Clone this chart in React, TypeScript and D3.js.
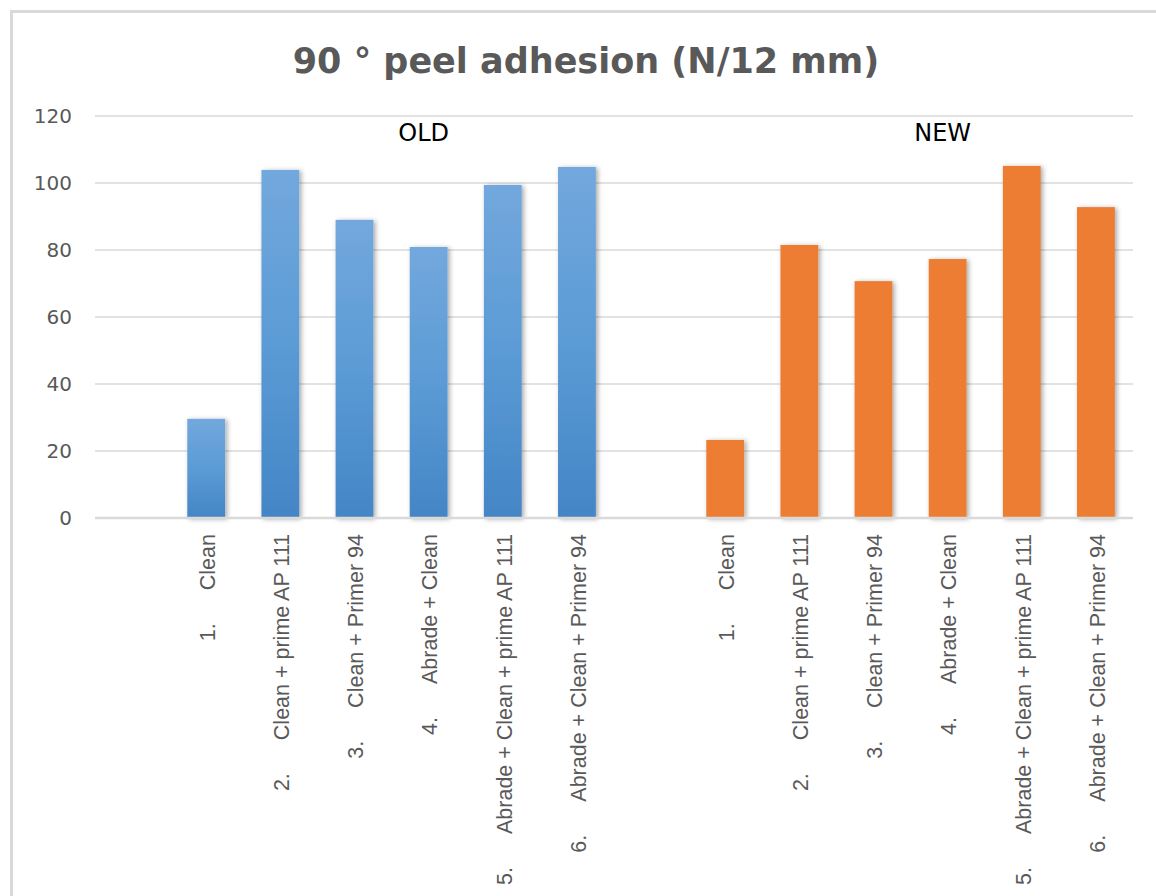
/**
 * Peel adhesion chart - OLD vs NEW surface treatments
 */

import React, { useEffect, useRef } from 'react';
import * as d3 from 'd3';

const title = '90 ° peel adhesion (N/12 mm)';
const groups = ['OLD', 'NEW'];
const treatments = [
  'Clean',
  'Clean + prime AP 111',
  'Clean + Primer 94',
  'Abrade + Clean',
  'Abrade + Clean + prime AP 111',
  'Abrade + Clean + Primer 94',
];
const oldValues = [29.6, 103.9, 89.0, 80.9, 99.4, 104.8];
const newValues = [23.3, 81.5, 70.7, 77.3, 105.1, 92.8];
const yTicks = [0, 20, 40, 60, 80, 100, 120];

const WIDTH = 1156;
const HEIGHT = 896;

const App: React.FC = () => {
  const svgRef = useRef<SVGSVGElement>(null);

  useEffect(() => {
    if (!svgRef.current) return;
    const svg = d3.select(svgRef.current);
    svg.selectAll('*').remove();

    const margin = { top: 116, right: 23, left: 95, bottom: 378 };
    const x0 = margin.left;
    const x1 = WIDTH - margin.right;
    const yBase = HEIGHT - margin.bottom;

    // one empty slot in front of every group, then the six treatments
    const slots: Array<{ key: string; group: string; idx: number; value: number | null }> = [];
    groups.forEach((group, gi) => {
      const values = gi === 0 ? oldValues : newValues;
      slots.push({ key: `${group}-blank`, group, idx: -1, value: null });
      treatments.forEach((t, i) => {
        slots.push({ key: `${group}-${i}`, group, idx: i, value: values[i] });
      });
    });

    const xScale = d3
      .scaleBand<string>()
      .domain(slots.map(s => s.key))
      .range([x0, x1])
      .paddingInner(0.49)
      .paddingOuter(0.245);

    const yScale = d3.scaleLinear().domain([0, 120]).range([yBase, margin.top]);

    const defs = svg.append('defs');
    const grad = defs
      .append('linearGradient')
      .attr('id', 'blueGrad')
      .attr('x1', 0)
      .attr('y1', 0)
      .attr('x2', 0)
      .attr('y2', 1);
    grad.append('stop').attr('offset', '0%').attr('stop-color', '#72a8dd');
    grad.append('stop').attr('offset', '50%').attr('stop-color', '#5b9bd5');
    grad.append('stop').attr('offset', '100%').attr('stop-color', '#4485c6');

    const shadow = defs
      .append('filter')
      .attr('id', 'barShadow')
      .attr('x', '-30%')
      .attr('y', '-10%')
      .attr('width', '160%')
      .attr('height', '120%');
    shadow
      .append('feDropShadow')
      .attr('dx', 2)
      .attr('dy', 1)
      .attr('stdDeviation', 2.5)
      .attr('flood-color', '#000')
      .attr('flood-opacity', 0.35);

    // chart frame (only top and left edges fall inside the picture)
    svg
      .append('rect')
      .attr('x', 11.5)
      .attr('y', 11.5)
      .attr('width', WIDTH + 20)
      .attr('height', HEIGHT + 20)
      .attr('fill', '#fff')
      .attr('stroke', '#d9d9d9')
      .attr('stroke-width', 3);

    // title
    svg
      .append('text')
      .attr('x', 586)
      .attr('y', 73)
      .attr('text-anchor', 'middle')
      .attr('font-family', 'DejaVu Sans')
      .attr('font-weight', 'bold')
      .attr('font-size', '35px')
      .attr('fill', '#595959')
      .text(title);

    // gridlines
    svg
      .append('g')
      .selectAll('line')
      .data(yTicks.filter(t => t > 0))
      .join('line')
      .attr('x1', x0)
      .attr('x2', x1)
      .attr('y1', d => yScale(d))
      .attr('y2', d => yScale(d))
      .attr('stroke', '#d9d9d9')
      .attr('stroke-width', 1.3);

    // y tick labels
    svg
      .append('g')
      .selectAll('text')
      .data(yTicks)
      .join('text')
      .attr('x', 72)
      .attr('y', d => yScale(d))
      .attr('dy', '0.36em')
      .attr('text-anchor', 'end')
      .attr('font-family', 'DejaVu Sans')
      .attr('font-size', '20px')
      .attr('fill', '#595959')
      .text(d => d);

    // bars
    const bars = slots.filter(s => s.value !== null);
    svg
      .append('g')
      .selectAll('rect')
      .data(bars)
      .join('rect')
      .attr('x', d => xScale(d.key)!)
      .attr('y', d => yScale(d.value!))
      .attr('width', xScale.bandwidth())
      .attr('height', d => yBase - yScale(d.value!))
      .attr('fill', d => (d.group === 'OLD' ? 'url(#blueGrad)' : '#ed7d31'))
      .attr('filter', 'url(#barShadow)');

    // axis baseline
    svg
      .append('line')
      .attr('x1', x0)
      .attr('x2', x1)
      .attr('y1', yBase)
      .attr('y2', yBase)
      .attr('stroke', '#d9d9d9')
      .attr('stroke-width', 2.5);

    // rotated category labels: "n." + tab + treatment
    const labels = svg
      .append('g')
      .selectAll('text')
      .data(bars)
      .join('text')
      .attr('transform', d => {
        const cx = xScale(d.key)! + xScale.bandwidth() / 2 + 1;
        return `translate(${cx},${yBase + 16}) rotate(-90)`;
      })
      .attr('dy', '0.36em')
      .attr('text-anchor', 'end')
      .attr('font-family', 'Liberation Sans')
      .attr('font-size', '21.5px')
      .attr('fill', '#595959');
    labels.append('tspan').text(d => `${d.idx + 1}.`);
    labels
      .append('tspan')
      .attr('dx', 33)
      .text(d => treatments[d.idx]);

    // group captions
    svg
      .append('g')
      .selectAll('text')
      .data(groups)
      .join('text')
      .attr('x', d => xScale(`${d}-3`)! + xScale.bandwidth() / 2 - 5)
      .attr('y', yScale(112.5))
      .attr('text-anchor', 'middle')
      .attr('font-family', 'DejaVu Sans')
      .attr('font-size', '24px')
      .attr('fill', '#000')
      .text(d => d);
  }, []);

  return (
    <svg
      ref={svgRef}
      width={WIDTH}
      height={HEIGHT}
      style={{ position: 'absolute', left: 0, top: 0, background: '#fff' }}
    />
  );
};

export default App;
